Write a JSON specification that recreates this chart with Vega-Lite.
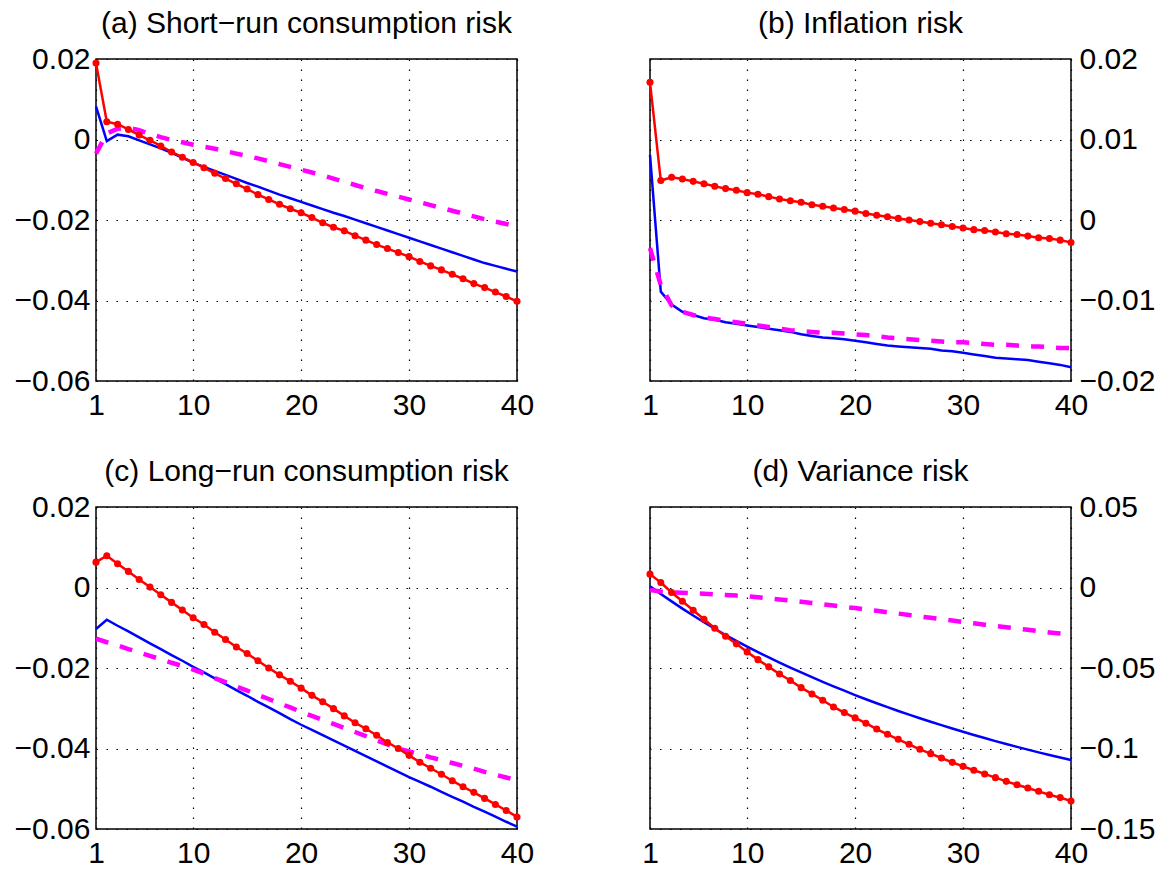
{
  "$schema": "https://vega.github.io/schema/vega-lite/v6.json",
  "background": "white",
  "padding": {"left": 13, "top": 8, "right": 0, "bottom": 0},
  "bounds": "flush",
  "columns": 2,
  "spacing": {"row": 126, "column": 133},
  "datasets": {
    "pa": [
      {"t":1,"r":0.0190,"b":0.0082,"m":-0.0035},
      {"t":2,"r":0.0044,"b":-0.0004,"m":0.0015},
      {"t":3,"r":0.0038,"b":0.0012,"m":0.0027},
      {"t":4,"r":0.0025,"b":0.0008,"m":0.0029},
      {"t":5,"r":0.0011,"b":-0.0002,"m":0.0023},
      {"t":6,"r":-0.0002,"b":-0.0012,"m":0.0014},
      {"t":7,"r":-0.0016,"b":-0.0022,"m":0.0006},
      {"t":8,"r":-0.0031,"b":-0.0033,"m":-0.0001},
      {"t":9,"r":-0.0044,"b":-0.0045,"m":-0.0007},
      {"t":10,"r":-0.0057,"b":-0.0058,"m":-0.0013},
      {"t":11,"r":-0.0070,"b":-0.0068,"m":-0.0018},
      {"t":12,"r":-0.0084,"b":-0.0078,"m":-0.0023},
      {"t":13,"r":-0.0097,"b":-0.0088,"m":-0.0029},
      {"t":14,"r":-0.0110,"b":-0.0098,"m":-0.0035},
      {"t":15,"r":-0.0123,"b":-0.0108,"m":-0.0041},
      {"t":16,"r":-0.0137,"b":-0.0117,"m":-0.0047},
      {"t":17,"r":-0.0149,"b":-0.0127,"m":-0.0054},
      {"t":18,"r":-0.0161,"b":-0.0137,"m":-0.0061},
      {"t":19,"r":-0.0172,"b":-0.0146,"m":-0.0068},
      {"t":20,"r":-0.0182,"b":-0.0155,"m":-0.0075},
      {"t":21,"r":-0.0194,"b":-0.0164,"m":-0.0082},
      {"t":22,"r":-0.0207,"b":-0.0173,"m":-0.0089},
      {"t":23,"r":-0.0218,"b":-0.0182,"m":-0.0097},
      {"t":24,"r":-0.0227,"b":-0.0190,"m":-0.0105},
      {"t":25,"r":-0.0239,"b":-0.0199,"m":-0.0113},
      {"t":26,"r":-0.0250,"b":-0.0208,"m":-0.0121},
      {"t":27,"r":-0.0261,"b":-0.0217,"m":-0.0128},
      {"t":28,"r":-0.0271,"b":-0.0226,"m":-0.0135},
      {"t":29,"r":-0.0281,"b":-0.0235,"m":-0.0142},
      {"t":30,"r":-0.0291,"b":-0.0244,"m":-0.0149},
      {"t":31,"r":-0.0303,"b":-0.0253,"m":-0.0156},
      {"t":32,"r":-0.0314,"b":-0.0262,"m":-0.0163},
      {"t":33,"r":-0.0324,"b":-0.0271,"m":-0.0170},
      {"t":34,"r":-0.0335,"b":-0.0280,"m":-0.0177},
      {"t":35,"r":-0.0346,"b":-0.0289,"m":-0.0184},
      {"t":36,"r":-0.0358,"b":-0.0298,"m":-0.0191},
      {"t":37,"r":-0.0368,"b":-0.0307,"m":-0.0198},
      {"t":38,"r":-0.0379,"b":-0.0314,"m":-0.0204},
      {"t":39,"r":-0.0390,"b":-0.0321,"m":-0.0210},
      {"t":40,"r":-0.0402,"b":-0.0328,"m":-0.0216}
    ],
    "pb": [
      {"t":1,"r":0.0171,"b":0.0081,"m":-0.0035},
      {"t":2,"r":0.0049,"b":-0.0089,"m":-0.0081},
      {"t":3,"r":0.0053,"b":-0.0105,"m":-0.0106},
      {"t":4,"r":0.0051,"b":-0.0114,"m":-0.0114},
      {"t":5,"r":0.0048,"b":-0.0118,"m":-0.0118},
      {"t":6,"r":0.0045,"b":-0.0122,"m":-0.0121},
      {"t":7,"r":0.0042,"b":-0.0124,"m":-0.0123},
      {"t":8,"r":0.0039,"b":-0.0127,"m":-0.0125},
      {"t":9,"r":0.0037,"b":-0.0129,"m":-0.0127},
      {"t":10,"r":0.0034,"b":-0.0131,"m":-0.0129},
      {"t":11,"r":0.0032,"b":-0.0133,"m":-0.0131},
      {"t":12,"r":0.0029,"b":-0.0135,"m":-0.0133},
      {"t":13,"r":0.0026,"b":-0.0137,"m":-0.0135},
      {"t":14,"r":0.0024,"b":-0.0139,"m":-0.0137},
      {"t":15,"r":0.0022,"b":-0.0142,"m":-0.0138},
      {"t":16,"r":0.0019,"b":-0.0144,"m":-0.0139},
      {"t":17,"r":0.0017,"b":-0.0146,"m":-0.0140},
      {"t":18,"r":0.0015,"b":-0.0147,"m":-0.0140},
      {"t":19,"r":0.0013,"b":-0.0148,"m":-0.0141},
      {"t":20,"r":0.0011,"b":-0.0150,"m":-0.0142},
      {"t":21,"r":0.0008,"b":-0.0152,"m":-0.0143},
      {"t":22,"r":0.0006,"b":-0.0154,"m":-0.0144},
      {"t":23,"r":0.0004,"b":-0.0156,"m":-0.0146},
      {"t":24,"r":0.0002,"b":-0.0157,"m":-0.0147},
      {"t":25,"r":0.0000,"b":-0.0158,"m":-0.0148},
      {"t":26,"r":-0.0002,"b":-0.0159,"m":-0.0149},
      {"t":27,"r":-0.0004,"b":-0.0160,"m":-0.0150},
      {"t":28,"r":-0.0006,"b":-0.0162,"m":-0.0151},
      {"t":29,"r":-0.0008,"b":-0.0163,"m":-0.0152},
      {"t":30,"r":-0.0010,"b":-0.0165,"m":-0.0152},
      {"t":31,"r":-0.0012,"b":-0.0167,"m":-0.0153},
      {"t":32,"r":-0.0013,"b":-0.0169,"m":-0.0154},
      {"t":33,"r":-0.0015,"b":-0.0171,"m":-0.0155},
      {"t":34,"r":-0.0017,"b":-0.0172,"m":-0.0155},
      {"t":35,"r":-0.0018,"b":-0.0173,"m":-0.0156},
      {"t":36,"r":-0.0020,"b":-0.0174,"m":-0.0157},
      {"t":37,"r":-0.0022,"b":-0.0176,"m":-0.0157},
      {"t":38,"r":-0.0023,"b":-0.0178,"m":-0.0158},
      {"t":39,"r":-0.0025,"b":-0.0180,"m":-0.0159},
      {"t":40,"r":-0.0028,"b":-0.0183,"m":-0.0159}
    ],
    "pc": [
      {"t":1,"r":0.0063,"b":-0.0103,"m":-0.0127},
      {"t":2,"r":0.0079,"b":-0.0080,"m":-0.0136},
      {"t":3,"r":0.0059,"b":-0.0095,"m":-0.0144},
      {"t":4,"r":0.0040,"b":-0.0109,"m":-0.0153},
      {"t":5,"r":0.0020,"b":-0.0124,"m":-0.0161},
      {"t":6,"r":0.0001,"b":-0.0139,"m":-0.0170},
      {"t":7,"r":-0.0018,"b":-0.0153,"m":-0.0178},
      {"t":8,"r":-0.0037,"b":-0.0168,"m":-0.0187},
      {"t":9,"r":-0.0056,"b":-0.0182,"m":-0.0195},
      {"t":10,"r":-0.0075,"b":-0.0197,"m":-0.0204},
      {"t":11,"r":-0.0092,"b":-0.0211,"m":-0.0214},
      {"t":12,"r":-0.0111,"b":-0.0226,"m":-0.0225},
      {"t":13,"r":-0.0129,"b":-0.0240,"m":-0.0235},
      {"t":14,"r":-0.0148,"b":-0.0255,"m":-0.0246},
      {"t":15,"r":-0.0164,"b":-0.0269,"m":-0.0256},
      {"t":16,"r":-0.0182,"b":-0.0284,"m":-0.0267},
      {"t":17,"r":-0.0200,"b":-0.0298,"m":-0.0277},
      {"t":18,"r":-0.0217,"b":-0.0312,"m":-0.0288},
      {"t":19,"r":-0.0233,"b":-0.0327,"m":-0.0298},
      {"t":20,"r":-0.0250,"b":-0.0341,"m":-0.0309},
      {"t":21,"r":-0.0268,"b":-0.0354,"m":-0.0319},
      {"t":22,"r":-0.0284,"b":-0.0367,"m":-0.0329},
      {"t":23,"r":-0.0301,"b":-0.0380,"m":-0.0339},
      {"t":24,"r":-0.0319,"b":-0.0393,"m":-0.0349},
      {"t":25,"r":-0.0336,"b":-0.0406,"m":-0.0359},
      {"t":26,"r":-0.0351,"b":-0.0419,"m":-0.0369},
      {"t":27,"r":-0.0367,"b":-0.0432,"m":-0.0380},
      {"t":28,"r":-0.0385,"b":-0.0445,"m":-0.0390},
      {"t":29,"r":-0.0400,"b":-0.0458,"m":-0.0400},
      {"t":30,"r":-0.0417,"b":-0.0471,"m":-0.0407},
      {"t":31,"r":-0.0434,"b":-0.0483,"m":-0.0414},
      {"t":32,"r":-0.0449,"b":-0.0495,"m":-0.0422},
      {"t":33,"r":-0.0464,"b":-0.0508,"m":-0.0429},
      {"t":34,"r":-0.0480,"b":-0.0520,"m":-0.0436},
      {"t":35,"r":-0.0495,"b":-0.0532,"m":-0.0443},
      {"t":36,"r":-0.0509,"b":-0.0545,"m":-0.0450},
      {"t":37,"r":-0.0524,"b":-0.0557,"m":-0.0458},
      {"t":38,"r":-0.0539,"b":-0.0569,"m":-0.0465},
      {"t":39,"r":-0.0554,"b":-0.0582,"m":-0.0472},
      {"t":40,"r":-0.0570,"b":-0.0594,"m":-0.0479}
    ],
    "pd": [
      {"t":1,"r":0.0083,"b":0.0008,"m":-0.0015},
      {"t":2,"r":0.0031,"b":-0.0040,"m":-0.0025},
      {"t":3,"r":-0.0031,"b":-0.0086,"m":-0.0030},
      {"t":4,"r":-0.0085,"b":-0.0131,"m":-0.0033},
      {"t":5,"r":-0.0141,"b":-0.0174,"m":-0.0036},
      {"t":6,"r":-0.0197,"b":-0.0216,"m":-0.0039},
      {"t":7,"r":-0.0253,"b":-0.0256,"m":-0.0042},
      {"t":8,"r":-0.0303,"b":-0.0295,"m":-0.0046},
      {"t":9,"r":-0.0350,"b":-0.0332,"m":-0.0050},
      {"t":10,"r":-0.0400,"b":-0.0367,"m":-0.0055},
      {"t":11,"r":-0.0448,"b":-0.0401,"m":-0.0061},
      {"t":12,"r":-0.0493,"b":-0.0434,"m":-0.0067},
      {"t":13,"r":-0.0537,"b":-0.0466,"m":-0.0074},
      {"t":14,"r":-0.0578,"b":-0.0497,"m":-0.0081},
      {"t":15,"r":-0.0622,"b":-0.0527,"m":-0.0088},
      {"t":16,"r":-0.0661,"b":-0.0557,"m":-0.0096},
      {"t":17,"r":-0.0700,"b":-0.0586,"m":-0.0104},
      {"t":18,"r":-0.0742,"b":-0.0614,"m":-0.0112},
      {"t":19,"r":-0.0777,"b":-0.0641,"m":-0.0120},
      {"t":20,"r":-0.0810,"b":-0.0668,"m":-0.0128},
      {"t":21,"r":-0.0843,"b":-0.0694,"m":-0.0137},
      {"t":22,"r":-0.0879,"b":-0.0719,"m":-0.0145},
      {"t":23,"r":-0.0912,"b":-0.0743,"m":-0.0154},
      {"t":24,"r":-0.0943,"b":-0.0767,"m":-0.0162},
      {"t":25,"r":-0.0974,"b":-0.0790,"m":-0.0171},
      {"t":26,"r":-0.1005,"b":-0.0812,"m":-0.0180},
      {"t":27,"r":-0.1032,"b":-0.0834,"m":-0.0188},
      {"t":28,"r":-0.1059,"b":-0.0855,"m":-0.0197},
      {"t":29,"r":-0.1086,"b":-0.0876,"m":-0.0205},
      {"t":30,"r":-0.1111,"b":-0.0896,"m":-0.0214},
      {"t":31,"r":-0.1135,"b":-0.0916,"m":-0.0222},
      {"t":32,"r":-0.1158,"b":-0.0935,"m":-0.0231},
      {"t":33,"r":-0.1181,"b":-0.0954,"m":-0.0239},
      {"t":34,"r":-0.1204,"b":-0.0972,"m":-0.0247},
      {"t":35,"r":-0.1225,"b":-0.0990,"m":-0.0255},
      {"t":36,"r":-0.1245,"b":-0.1007,"m":-0.0263},
      {"t":37,"r":-0.1266,"b":-0.1024,"m":-0.0271},
      {"t":38,"r":-0.1287,"b":-0.1040,"m":-0.0279},
      {"t":39,"r":-0.1305,"b":-0.1056,"m":-0.0286},
      {"t":40,"r":-0.1326,"b":-0.1071,"m":-0.0293}
    ]
  },
  "concat": [
    {
      "width": 421, "height": 322,
      "title": {"text": "(a) Short−run consumption risk"},
      "data": {"name": "pa"},
      "transform": [{"fold": ["r", "b", "m"], "as": ["s", "v"]}],
      "encoding": {
        "x": {"field": "t", "type": "quantitative", "scale": {"domain": [1, 40], "nice": false, "zero": false}, "axis": {"values": [1, 10, 20, 30, 40], "title": null}},
        "y": {"field": "v", "type": "quantitative", "scale": {"domain": [-0.06, 0.02], "nice": false, "zero": false}, "axis": {"values": [-0.06, -0.04, -0.02, 0, 0.02], "format": "~g", "title": null, "orient": "left"}}
      },
      "layer": [
        {"transform": [{"filter": "datum.s === 'b'"}], "mark": {"type": "line", "color": "#0000ff", "strokeWidth": 2.5}},
        {"transform": [{"filter": "datum.s === 'm'"}], "mark": {"type": "line", "color": "#ff00ff", "strokeWidth": 4.5, "strokeDash": [13, 12]}},
        {"transform": [{"filter": "datum.s === 'r'"}], "mark": {"type": "line", "color": "#ff0000", "strokeWidth": 2.5, "point": {"filled": true, "size": 50, "color": "#ff0000", "opacity": 1}}}
      ]
    },
    {
      "width": 421, "height": 322,
      "title": {"text": "(b) Inflation risk"},
      "data": {"name": "pb"},
      "transform": [{"fold": ["r", "b", "m"], "as": ["s", "v"]}],
      "encoding": {
        "x": {"field": "t", "type": "quantitative", "scale": {"domain": [1, 40], "nice": false, "zero": false}, "axis": {"values": [1, 10, 20, 30, 40], "title": null}},
        "y": {"field": "v", "type": "quantitative", "scale": {"domain": [-0.02, 0.02], "nice": false, "zero": false}, "axis": {"values": [-0.02, -0.01, 0, 0.01, 0.02], "format": "~g", "title": null, "orient": "right"}}
      },
      "layer": [
        {"transform": [{"filter": "datum.s === 'b'"}], "mark": {"type": "line", "color": "#0000ff", "strokeWidth": 2.5}},
        {"transform": [{"filter": "datum.s === 'm'"}], "mark": {"type": "line", "color": "#ff00ff", "strokeWidth": 4.5, "strokeDash": [13, 12]}},
        {"transform": [{"filter": "datum.s === 'r'"}], "mark": {"type": "line", "color": "#ff0000", "strokeWidth": 2.5, "point": {"filled": true, "size": 50, "color": "#ff0000", "opacity": 1}}}
      ]
    },
    {
      "width": 421, "height": 322,
      "title": {"text": "(c) Long−run consumption risk"},
      "data": {"name": "pc"},
      "transform": [{"fold": ["r", "b", "m"], "as": ["s", "v"]}],
      "encoding": {
        "x": {"field": "t", "type": "quantitative", "scale": {"domain": [1, 40], "nice": false, "zero": false}, "axis": {"values": [1, 10, 20, 30, 40], "title": null}},
        "y": {"field": "v", "type": "quantitative", "scale": {"domain": [-0.06, 0.02], "nice": false, "zero": false}, "axis": {"values": [-0.06, -0.04, -0.02, 0, 0.02], "format": "~g", "title": null, "orient": "left"}}
      },
      "layer": [
        {"transform": [{"filter": "datum.s === 'b'"}], "mark": {"type": "line", "color": "#0000ff", "strokeWidth": 2.5}},
        {"transform": [{"filter": "datum.s === 'm'"}], "mark": {"type": "line", "color": "#ff00ff", "strokeWidth": 4.5, "strokeDash": [13, 12]}},
        {"transform": [{"filter": "datum.s === 'r'"}], "mark": {"type": "line", "color": "#ff0000", "strokeWidth": 2.5, "point": {"filled": true, "size": 50, "color": "#ff0000", "opacity": 1}}}
      ]
    },
    {
      "width": 421, "height": 322,
      "title": {"text": "(d) Variance risk"},
      "data": {"name": "pd"},
      "transform": [{"fold": ["r", "b", "m"], "as": ["s", "v"]}],
      "encoding": {
        "x": {"field": "t", "type": "quantitative", "scale": {"domain": [1, 40], "nice": false, "zero": false}, "axis": {"values": [1, 10, 20, 30, 40], "title": null}},
        "y": {"field": "v", "type": "quantitative", "scale": {"domain": [-0.15, 0.05], "nice": false, "zero": false}, "axis": {"values": [-0.15, -0.1, -0.05, 0, 0.05], "format": ".2~f", "title": null, "orient": "right"}}
      },
      "layer": [
        {"transform": [{"filter": "datum.s === 'b'"}], "mark": {"type": "line", "color": "#0000ff", "strokeWidth": 2.5}},
        {"transform": [{"filter": "datum.s === 'm'"}], "mark": {"type": "line", "color": "#ff00ff", "strokeWidth": 4.5, "strokeDash": [13, 12]}},
        {"transform": [{"filter": "datum.s === 'r'"}], "mark": {"type": "line", "color": "#ff0000", "strokeWidth": 2.5, "point": {"filled": true, "size": 50, "color": "#ff0000", "opacity": 1}}}
      ]
    }
  ],
  "config": {
    "font": "Liberation Sans",
    "view": {"stroke": "#000000", "strokeWidth": 1.5},
    "axis": {
      "labelFontSize": 30,
      "labelFont": "Liberation Sans",
      "labelColor": "#000000",
      "domain": false,
      "ticks": false,
      "grid": true,
      "gridColor": "#000000",
      "gridDash": [1.5, 8.5],
      "gridWidth": 1.2,
      "labelFlush": false,
      "labelOverlap": false
    },
    "axisX": {"labelPadding": 9},
    "axisLeft": {"labelPadding": 6},
    "axisRight": {"labelPadding": 8},
    "title": {"fontSize": 30, "font": "Liberation Sans", "fontWeight": "normal", "color": "#000000", "anchor": "middle", "baseline": "alphabetic", "offset": 5}
  }
}
